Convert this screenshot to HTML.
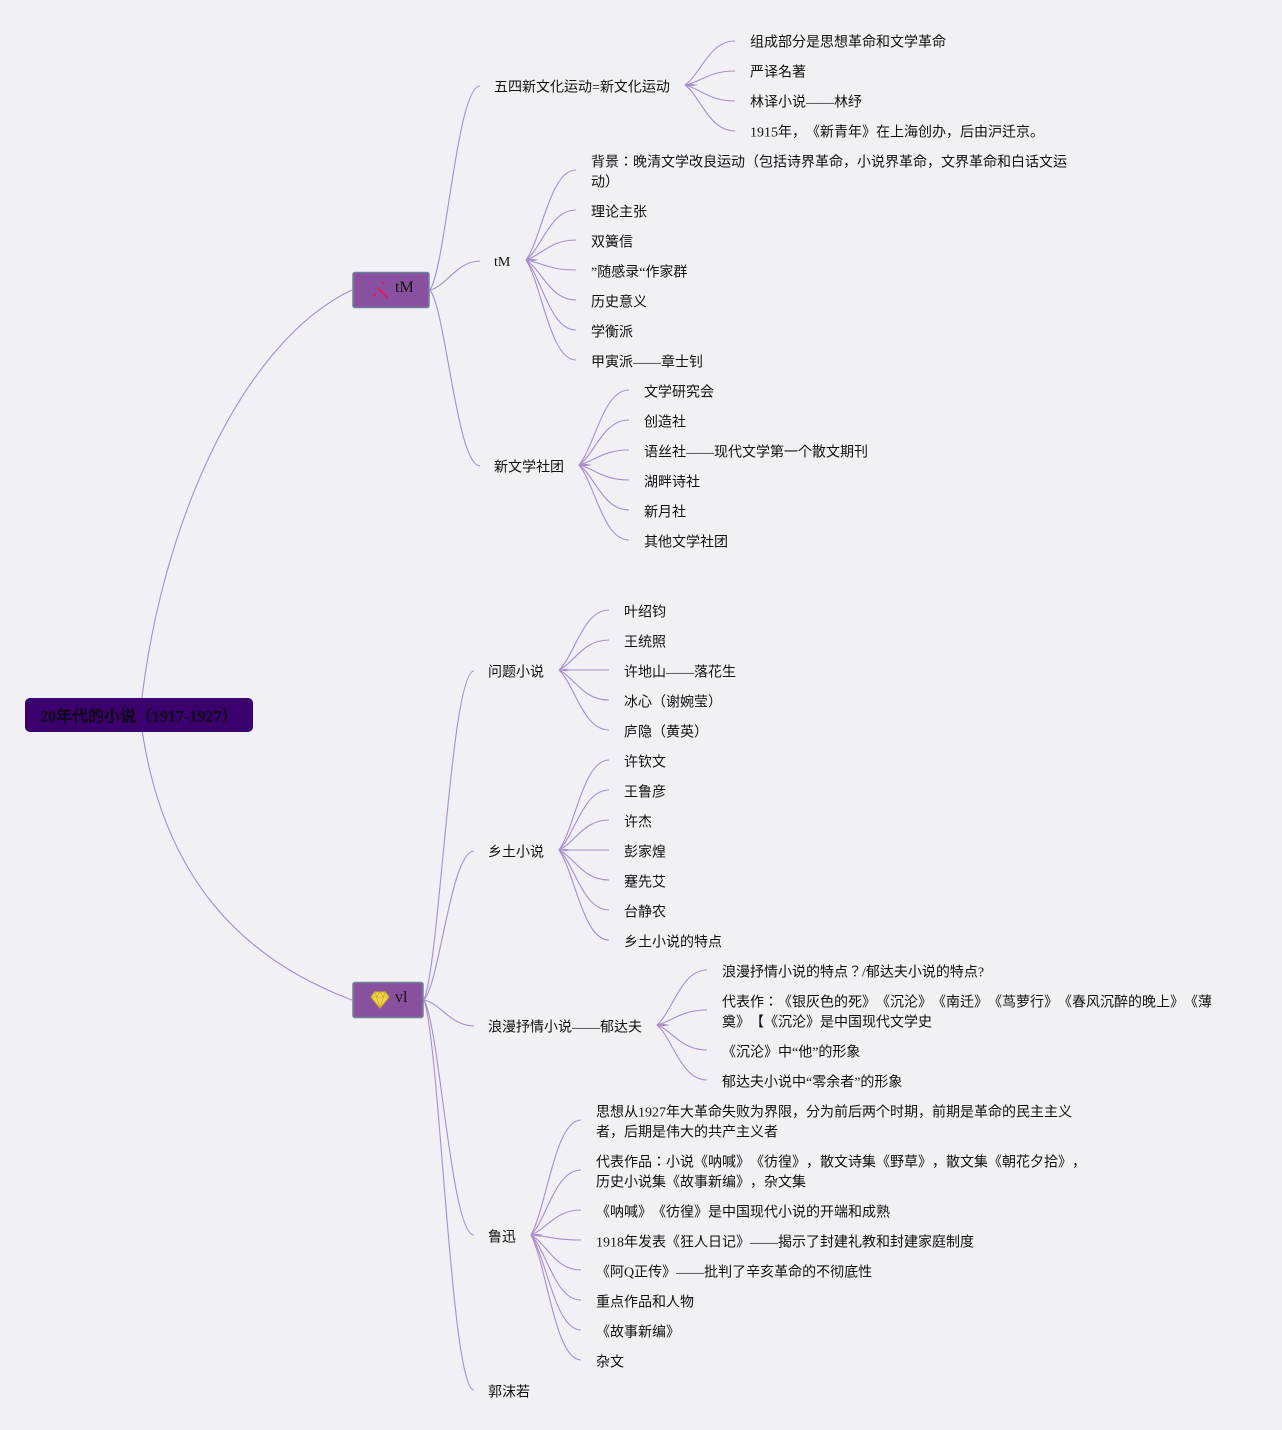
<!DOCTYPE html>
<html lang="ja"><head><meta charset="utf-8"><style>
html,body{margin:0;padding:0;background:#f1f0f5;width:1282px;height:1430px;overflow:hidden}
svg{display:block}
text{font-family:"Liberation Serif","Noto Sans CJK JP",sans-serif;font-size:14px;fill:#111;text-spacing-trim:space-all;font-kerning:none}
path.l{fill:none;stroke:#a78fc9;stroke-width:1.1}
path.t{fill:#a78fc9;stroke:none}
</style></head><body>
<svg width="1282" height="1430" viewBox="0 0 1282 1430" xmlns="http://www.w3.org/2000/svg">
<rect width="1282" height="1430" fill="#f1f0f5"/>
<g>
<path class="l" d="M140 715C160 520 245 340 352 290"/>
<path class="l" d="M140 715C160 880 245 960 352 1000"/>
<path class="l" d="M430 290C446 265 457 86 480 86"/>
<path class="l" d="M430 290C446 286.500 457 261 480 261"/>
<path class="l" d="M430 290C446 311 457 466 480 466"/>
<path class="l" d="M424 1000C440 960 451 671 474 671"/>
<path class="l" d="M424 1000C440 982 451 851 474 851"/>
<path class="l" d="M424 1000C440 1003 451 1026 474 1026"/>
<path class="l" d="M424 1000C440 1028 451 1235 474 1235"/>
<path class="l" d="M424 1000C440 1047 451 1390 474 1390"/>
</g>
<g>
<path class="l" d="M685 85C701 74 709 41 735 41"/><path class="l" d="M685 85C701 82 709 71 735 71"/><path class="l" d="M685 85C701 89 709 101 735 101"/><path class="l" d="M685 85C701 97 709 131 735 131"/>
<path class="l" d="M526 260C542 238 550 170 576 170"/><path class="l" d="M526 260C542 248 550 210 576 210"/><path class="l" d="M526 260C542 255 550 240 576 240"/><path class="l" d="M526 260C542 263 550 270 576 270"/><path class="l" d="M526 260C542 270 550 300 576 300"/><path class="l" d="M526 260C542 278 550 330 576 330"/><path class="l" d="M526 260C542 285 550 360 576 360"/>
<path class="l" d="M579 465C595 446 603 390 629 390"/><path class="l" d="M579 465C595 454 603 420 629 420"/><path class="l" d="M579 465C595 461 603 450 629 450"/><path class="l" d="M579 465C595 469 603 480 629 480"/><path class="l" d="M579 465C595 476 603 510 629 510"/><path class="l" d="M579 465C595 484 603 540 629 540"/>
<path class="l" d="M559 670C575 655 583 610 609 610"/><path class="l" d="M559 670C575 662 583 640 609 640"/><path class="l" d="M559 670C575 670 583 670 609 670"/><path class="l" d="M559 670C575 678 583 700 609 700"/><path class="l" d="M559 670C575 685 583 730 609 730"/>
<path class="l" d="M559 850C575 828 583 760 609 760"/><path class="l" d="M559 850C575 835 583 790 609 790"/><path class="l" d="M559 850C575 843 583 820 609 820"/><path class="l" d="M559 850C575 850 583 850 609 850"/><path class="l" d="M559 850C575 858 583 880 609 880"/><path class="l" d="M559 850C575 865 583 910 609 910"/><path class="l" d="M559 850C575 873 583 940 609 940"/>
<path class="l" d="M657 1025C673 1011 681 970 707 970"/><path class="l" d="M657 1025C673 1021 681 1010 707 1010"/><path class="l" d="M657 1025C673 1031 681 1050 707 1050"/><path class="l" d="M657 1025C673 1039 681 1080 707 1080"/>
<path class="l" d="M531 1235C547 1206 555 1120 581 1120"/><path class="l" d="M531 1235C547 1219 555 1170 581 1170"/><path class="l" d="M531 1235C547 1229 555 1210 581 1210"/><path class="l" d="M531 1235C547 1236 555 1240 581 1240"/><path class="l" d="M531 1235C547 1244 555 1270 581 1270"/><path class="l" d="M531 1235C547 1251 555 1300 581 1300"/><path class="l" d="M531 1235C547 1259 555 1330 581 1330"/><path class="l" d="M531 1235C547 1266 555 1360 581 1360"/>
</g>
<g>
<path class="t" d="M685 85L691 83.700L698 85L691 86.300Z"/><path class="t" d="M526 260L532 258.700L539 260L532 261.300Z"/><path class="t" d="M579 465L585 463.700L592 465L585 466.300Z"/><path class="t" d="M559 670L565 668.700L572 670L565 671.300Z"/><path class="t" d="M559 850L565 848.700L572 850L565 851.300Z"/><path class="t" d="M657 1025L663 1023.700L670 1025L663 1026.300Z"/><path class="t" d="M531 1235L537 1233.700L544 1235L537 1236.300Z"/>
</g>
<rect x="25" y="698" width="228" height="34" rx="5" fill="#3b006e"/>
<rect x="353" y="272.500" width="76" height="35" rx="2" fill="#8a50a0" stroke="#6b8299" stroke-width="1.500"/>
<g stroke="#d81e6e" fill="none" stroke-width="2.200"><path d="M378 288L388 298"/><path d="M376 294L373 296"/><path d="M383 282L384 284"/></g>
<text x="395" y="292" style="font-size:16px">tM</text>
<rect x="353" y="982.500" width="70" height="35" rx="2" fill="#8a50a0" stroke="#6b8299" stroke-width="1.500"/>
<path d="M375 992H385L389 997L380 1008L371 997Z" fill="#f4d84a" stroke="#d8b020"/>
<path d="M371 997H389M376.500 997L380 1007L383.500 997M375 992L376.500 997L380 992L383.500 997L385 992" fill="none" stroke="#b89a20" stroke-width=".6"/>
<text x="395" y="1002" style="font-size:16px">vl</text>
<text x="494" y="266">tM</text>
<g transform="translate(0,0.5)">
<text x="40" y="721" style="font-size:16px;font-weight:bold;fill:#140a20;stroke:#140a20;stroke-width:.3">20年代的小说（1917-1927）</text>
<text x="494" y="91">五四新文化运动=新文化运动</text>
<text x="750" y="46">组成部分是思想革命和文学革命</text>
<text x="750" y="76">严译名著</text>
<text x="750" y="106">林译小说——林纾</text>
<text x="750" y="136">1915年，《新青年》在上海创办，后由沪迁京。</text>
<text x="591" y="166">背景：晚清文学改良运动（包括诗界革命，小说界革命，文界革命和白话文运</text>
<text x="591" y="186">动）</text>
<text x="591" y="216">理论主张</text>
<text x="591" y="246">双簧信</text>
<text x="591" y="276">”随感录“作家群</text>
<text x="591" y="306">历史意义</text>
<text x="591" y="336">学衡派</text>
<text x="591" y="366">甲寅派——章士钊</text>
<text x="494" y="471">新文学社团</text>
<text x="644" y="396">文学研究会</text>
<text x="644" y="426">创造社</text>
<text x="644" y="456">语丝社——现代文学第一个散文期刊</text>
<text x="644" y="486">湖畔诗社</text>
<text x="644" y="516">新月社</text>
<text x="644" y="546">其他文学社团</text>
<text x="488" y="676">问题小说</text>
<text x="624" y="616">叶绍钧</text>
<text x="624" y="646">王统照</text>
<text x="624" y="676">许地山——落花生</text>
<text x="624" y="706">冰心（谢婉莹）</text>
<text x="624" y="736">庐隐（黄英）</text>
<text x="488" y="856">乡土小说</text>
<text x="624" y="766">许钦文</text>
<text x="624" y="796">王鲁彦</text>
<text x="624" y="826">许杰</text>
<text x="624" y="856">彭家煌</text>
<text x="624" y="886">蹇先艾</text>
<text x="624" y="916">台静农</text>
<text x="624" y="946">乡土小说的特点</text>
<text x="488" y="1031">浪漫抒情小说——郁达夫</text>
<text x="722" y="976">浪漫抒情小说的特点？/郁达夫小说的特点?</text>
<text x="722" y="1006">代表作：《银灰色的死》《沉沦》《南迁》《茑萝行》《春风沉醉的晚上》《薄</text>
<text x="722" y="1026">奠》【《沉沦》是中国现代文学史</text>
<text x="722" y="1056">《沉沦》中“他”的形象</text>
<text x="722" y="1086">郁达夫小说中“零余者”的形象</text>
<text x="488" y="1241">鲁迅</text>
<text x="596" y="1116">思想从1927年大革命失败为界限，分为前后两个时期，前期是革命的民主主义</text>
<text x="596" y="1136">者，后期是伟大的共产主义者</text>
<text x="596" y="1166">代表作品：小说《呐喊》《彷徨》，散文诗集《野草》，散文集《朝花夕拾》，</text>
<text x="596" y="1186">历史小说集《故事新编》，杂文集</text>
<text x="596" y="1216">《呐喊》《彷徨》是中国现代小说的开端和成熟</text>
<text x="596" y="1246">1918年发表《狂人日记》——揭示了封建礼教和封建家庭制度</text>
<text x="596" y="1276">《阿Q正传》——批判了辛亥革命的不彻底性</text>
<text x="596" y="1306">重点作品和人物</text>
<text x="596" y="1336">《故事新编》</text>
<text x="596" y="1366">杂文</text>
<text x="488" y="1396">郭沫若</text>
</g>
</svg>
</body></html>
